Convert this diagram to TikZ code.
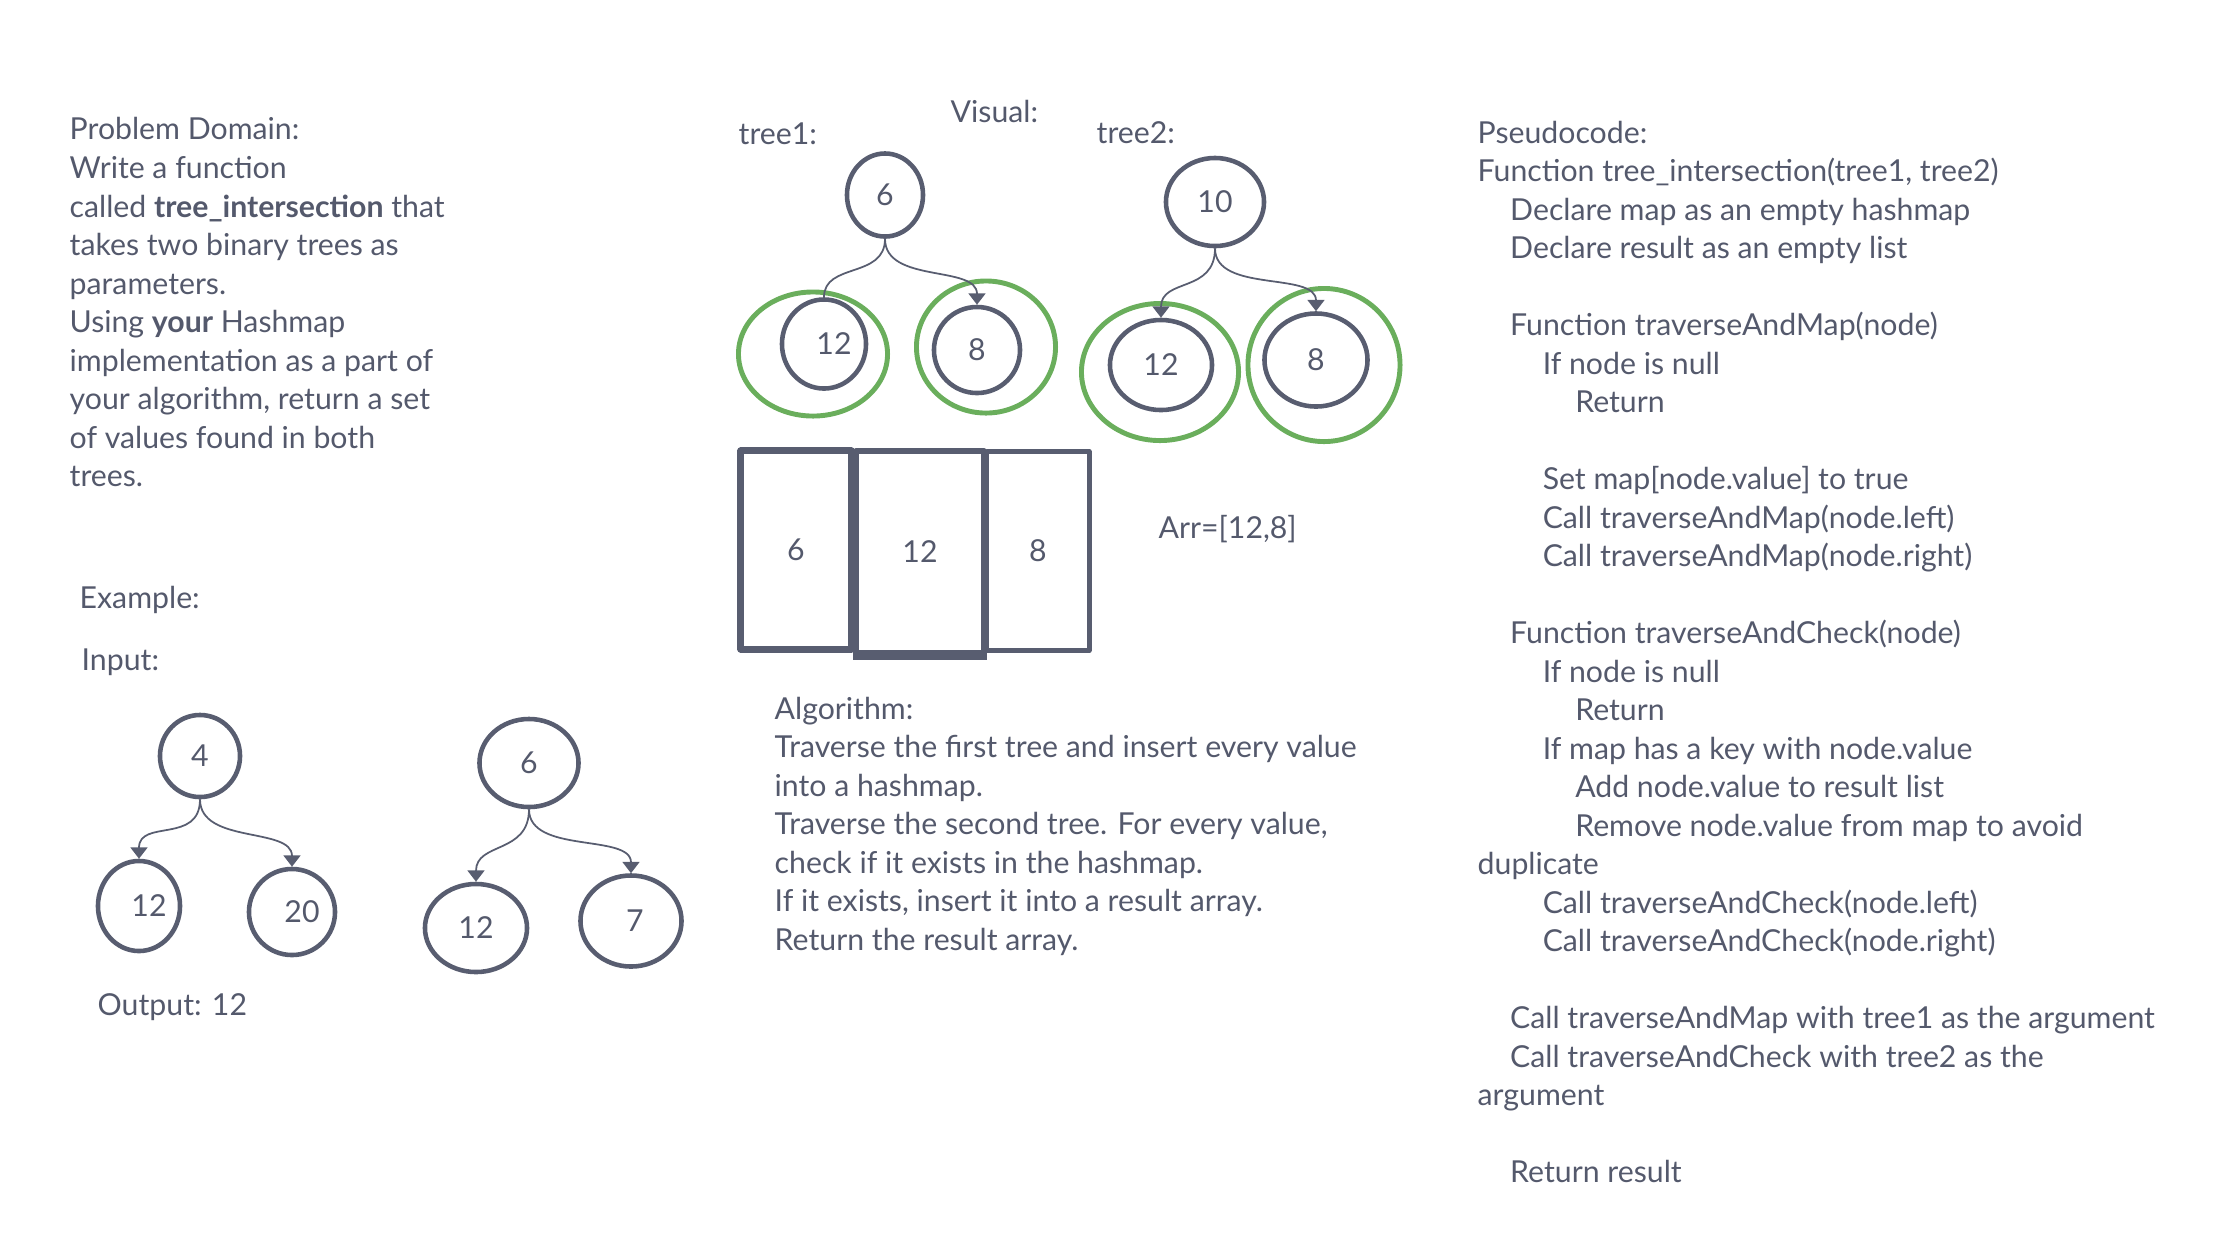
\documentclass[tikz,border=0pt]{standalone}
\usepackage{fontspec}
\setmainfont{Lato}
\usepackage{tikz}
\usetikzlibrary{shapes.geometric,arrows.meta,positioning}
\definecolor{slate}{RGB}{88,93,112}
\definecolor{inkgray}{RGB}{84,89,108}
\definecolor{ringgreen}{RGB}{106,174,92}
\newcommand{\lvl}[1]{\hspace*{\dimexpr 0.325cm*#1\relax}}

\begin{document}
\begin{tikzpicture}[
        x=0.01cm, y=-0.01cm,
        every node/.style={font=\fontsize{8.6}{10.95}\selectfont, text=inkgray},
        txt/.style={anchor=north west, align=left, inner sep=0pt},
        bnode/.style={ellipse, draw=slate, line width=1.3pt, inner sep=0pt},
        ring/.style={ellipse, draw=ringgreen, line width=1.4pt, inner sep=0pt},
        link/.style={draw=slate, line width=0.5pt, -{Triangle[width=4.8pt,length=3.2pt]}},
        cell/.style={rectangle, draw=slate, line join=round}
    ]
        \useasboundingbox (0,0) rectangle (2220,1244);

        % Problem domain
        \node[txt] (domain) at (69,117) {Problem Domain:\\
            Write a function\\
            called \textbf{tree\_intersection} that\\
            takes two binary trees as\\
            parameters.\\
            Using \textbf{your} Hashmap\\
            implementation as a part of\\
            your algorithm, return a set\\
            of values found in both\\
            trees.};

        % Example
        \node[txt] (example) at (79,586) {Example:};
        \node[txt] (input) at (81,648) {Input:};
        \node[txt] (output) at (97,993) {Output: 12};

        \node[bnode, minimum width=0.80cm, minimum height=0.82cm] (a4) at (200,756) {4};
        \node[bnode, minimum width=0.82cm, minimum height=0.90cm] (a12) at (139,906) {\hspace*{0.2cm}12};
        \node[bnode, minimum width=0.86cm, minimum height=0.86cm] (a20) at (292,912) {\hspace*{0.2cm}20};
        \draw[link] (a4.south) .. controls +(0,45) and +(0,-40) .. (a12.north);
        \draw[link] (a4.south) .. controls +(0,45) and +(0,-40) .. (a20.north);

        \node[bnode, minimum width=0.99cm, minimum height=0.88cm] (b6) at (529,763) {6};
        \node[bnode, minimum width=1.02cm, minimum height=0.88cm] (b12) at (476,928) {12};
        \node[bnode, minimum width=1.01cm, minimum height=0.91cm] (b7) at (631,921) {\hspace*{0.08cm}7};
        \draw[link] (b6.south) .. controls +(0,45) and +(0,-40) .. (b12.north);
        \draw[link] (b6.south) .. controls +(0,45) and +(0,-40) .. (b7.north);

        % Visual
        \node[txt] (visual) at (950,100) {Visual:};
        \node[txt] (tree1) at (738,122) {tree1:};
        \node[txt] (tree2) at (1096,121) {tree2:};

        \node[ring, minimum width=1.49cm, minimum height=1.24cm] (ring1) at (813,354) {};
        \node[ring, minimum width=1.39cm, minimum height=1.32cm] (ring2) at (986,347) {};
        \node[ring, minimum width=1.57cm, minimum height=1.37cm] (ring3) at (1160,372) {};
        \node[ring, minimum width=1.52cm, minimum height=1.53cm] (ring4) at (1324,365) {};

        \node[bnode, minimum width=0.76cm, minimum height=0.83cm] (t6) at (885,195) {6};
        \node[bnode, minimum width=0.84cm, minimum height=0.89cm] (t12) at (824,344) {\hspace*{0.2cm}12};
        \node[bnode, minimum width=0.86cm, minimum height=0.86cm] (t8) at (977,350) {8};
        \draw[draw=slate, line width=0.5pt] (t6.south) .. controls +(0,40) and +(0,-35) .. (t12.north);
        \draw[link] (t6.south) .. controls +(0,45) and +(0,-40) .. (t8.north);

        \node[bnode, minimum width=0.98cm, minimum height=0.88cm] (u10) at (1215,202) {10};
        \node[bnode, minimum width=1.02cm, minimum height=0.90cm] (u12) at (1161,365) {12};
        \node[bnode, minimum width=1.03cm, minimum height=0.93cm] (u8) at (1316,360) {8};
        \draw[link] (u10.south) .. controls +(0,45) and +(0,-40) .. (u12.north);
        \draw[link] (u10.south) .. controls +(0,45) and +(0,-40) .. (u8.north);

        % Array
        \node[cell, line width=2pt, minimum width=1.10cm, minimum height=1.98cm] (c6) at (796,550) {6};
        \node[cell, line width=1.5pt, minimum width=1.28cm, minimum height=2.02cm] (c12) at (920,552) {12};
        \node[cell, line width=1.4pt, minimum width=1.02cm, minimum height=1.99cm] (c8) at (1038,551) {8};
        \draw[slate, line width=2.4pt] (c12.south west) -- (c12.south east);
        \node[txt] (arr) at (1158,515) {Arr=[12,8]};

        % Algorithm
        \node[txt] (algo) at (774,696) {Algorithm:\\
            Traverse the first tree and insert every value\\
            into a hashmap.\\
            Traverse the second tree. For every value,\\
            check if it exists in the hashmap.\\
            If it exists, insert it into a result array.\\
            Return the result array.};

        % Pseudocode
        \node[txt] (pseudo) at (1477,120) {Pseudocode:\\
            Function tree\_intersection(tree1, tree2)\\
            \lvl1Declare map as an empty hashmap\\
            \lvl1Declare result as an empty list\\[10.95pt]
            \lvl1Function traverseAndMap(node)\\
            \lvl2If node is null\\
            \lvl3Return\\[10.95pt]
            \lvl2Set map[node.value] to true\\
            \lvl2Call traverseAndMap(node.left)\\
            \lvl2Call traverseAndMap(node.right)\\[10.95pt]
            \lvl1Function traverseAndCheck(node)\\
            \lvl2If node is null\\
            \lvl3Return\\
            \lvl2If map has a key with node.value\\
            \lvl3Add node.value to result list\\
            \lvl3Remove node.value from map to avoid\\
            duplicate\\
            \lvl2Call traverseAndCheck(node.left)\\
            \lvl2Call traverseAndCheck(node.right)\\[10.95pt]
            \lvl1Call traverseAndMap with tree1 as the argument\\
            \lvl1Call traverseAndCheck with tree2 as the\\
            argument\\[10.95pt]
            \lvl1Return result};
    \end{tikzpicture}
\end{document}
